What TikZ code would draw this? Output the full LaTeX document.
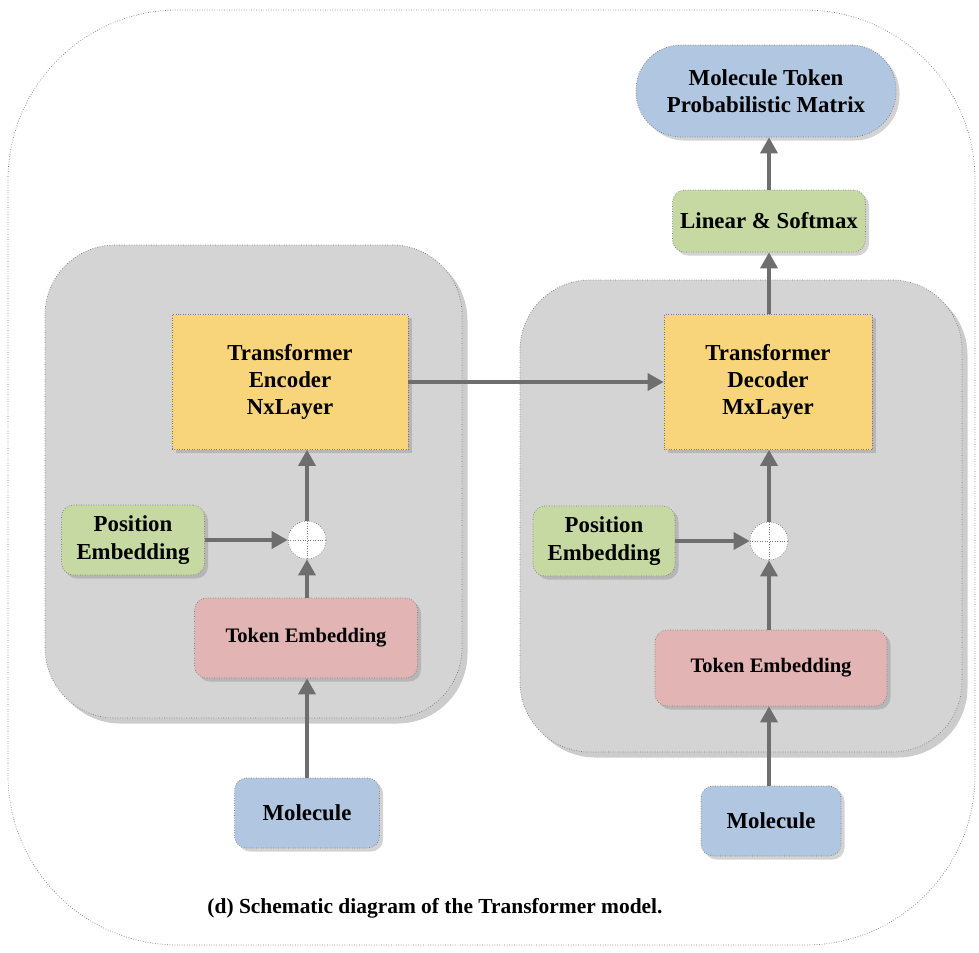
\documentclass[tikz,border=0pt]{standalone}
\usepackage{fontspec}
\setmainfont{Liberation Serif}
\usepackage{tikz}
\usetikzlibrary{arrows.meta,shadows}

\definecolor{panelgray}{HTML}{D4D4D4}
\definecolor{encyellow}{HTML}{F8D57A}
\definecolor{embgreen}{HTML}{C6D9A2}
\definecolor{tokpink}{HTML}{E2B4B3}
\definecolor{molblue}{HTML}{B1C6E0}
\definecolor{arrowgray}{HTML}{6E6E6E}
\definecolor{bordergray}{HTML}{7A7A7A}

\tikzset{
    box/.style={draw=bordergray, densely dotted, align=center, inner sep=0pt,
        font=\fontsize{13}{15.5}\selectfont\bfseries,
        drop shadow={shadow xshift=0.7mm, shadow yshift=-0.7mm, opacity=0.35}},
    layerbox/.style={box, fill=encyellow},
    embbox/.style={box, fill=embgreen, rounded corners=2.4mm},
    tokbox/.style={box, fill=tokpink, rounded corners=2.4mm, font=\fontsize{11.7}{14}\selectfont\bfseries},
    molbox/.style={box, fill=molblue, rounded corners=2.4mm},
    panel/.style={draw=bordergray, densely dotted, fill=panelgray, rounded corners=14mm,
        drop shadow={shadow xshift=1.1mm, shadow yshift=-1.1mm, opacity=0.4}},
    plus/.style={circle, draw=bordergray, densely dotted, fill=white, minimum size=7.6mm, inner sep=0pt,
        path picture={
            \draw[bordergray, densely dotted] (path picture bounding box.north) -- (path picture bounding box.south);
            \draw[bordergray, densely dotted] (path picture bounding box.west) -- (path picture bounding box.east);
        }},
    arrow/.style={draw=arrowgray, line width=2pt, -{Triangle[length=3.2mm, width=3.4mm]}}
}

\begin{document}
\begin{tikzpicture}[x=0.2mm, y=-0.2mm]
    \useasboundingbox (0,0) rectangle (979,952);
    \draw[bordergray, densely dotted, rounded corners=34mm] (8,10) rectangle (975,945);

    % panels
    \draw[panel] (45,245) rectangle (462,718);
    \draw[panel] (520,280) rectangle (962,752);

    % encoder side
    \node[layerbox, minimum width=47.2mm, minimum height=27mm] (enc) at (290,382) {Transformer\\Encoder\\NxLayer};
    \node[embbox, minimum width=28.6mm, minimum height=14mm] (posL) at (133,540) {Position\\Embedding};
    \node[plus] (sumL) at (307,540) {};
    \node[tokbox, minimum width=44.6mm, minimum height=16mm] (tokL) at (306,638) {Token Embedding};
    \node[molbox, minimum width=29mm, minimum height=14mm] (molL) at (307,813) {Molecule};

    % decoder side
    \node[layerbox, minimum width=41.6mm, minimum height=27mm] (dec) at (768,382) {Transformer\\Decoder\\MxLayer};
    \node[embbox, minimum width=28.4mm, minimum height=14mm] (posR) at (604,541) {Position\\Embedding};
    \node[plus] (sumR) at (769,541) {};
    \node[tokbox, minimum width=46.4mm, minimum height=15.2mm] (tokR) at (771,668) {Token Embedding};
    \node[molbox, minimum width=28mm, minimum height=14mm] (molR) at (771,821) {Molecule};
    \node[embbox, minimum width=38.6mm, minimum height=12.4mm] (lin) at (769,221) {Linear \& Softmax};
    \node[molbox, rounded corners=9mm, minimum width=52mm, minimum height=18.4mm] (prob) at (766,91) {Molecule Token\\Probabilistic Matrix};

    \draw[arrow] (molL.north) -- (molL.north |- tokL.south);
    \draw[arrow] (tokL.north -| sumL) -- (sumL.south);
    \draw[arrow] (posL.east) -- (sumL.west);
    \draw[arrow] (sumL.north) -- (sumL.north |- enc.south);
    \draw[arrow] (enc.east) -- (dec.west);

    \draw[arrow] (molR.north -| sumR) -- (sumR |- tokR.south);
    \draw[arrow] (tokR.north -| sumR) -- (sumR.south);
    \draw[arrow] (posR.east) -- (sumR.west);
    \draw[arrow] (sumR.north) -- (sumR.north |- dec.south);
    \draw[arrow] (dec.north -| lin) -- (lin.south);
    \draw[arrow] (lin.north) -- (lin.north |- prob.south);

    \node[font=\fontsize{12.2}{14}\selectfont\bfseries] (caption) at (435,908) {(d) Schematic diagram of the Transformer model.};
\end{tikzpicture}
\end{document}
